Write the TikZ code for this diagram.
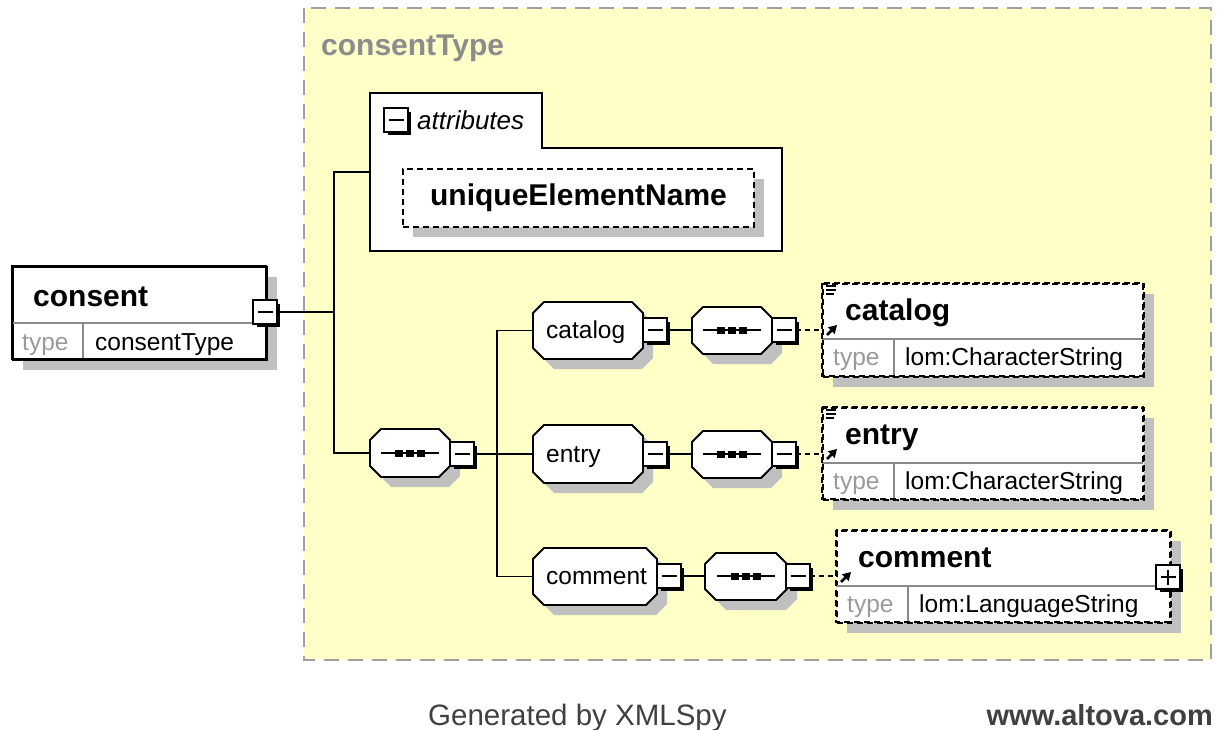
\documentclass[tikz,border=0pt]{standalone}
\usepackage{fontspec}
\setmainfont{Liberation Sans}
\usetikzlibrary{arrows.meta,shadows}

\definecolor{bgyellow}{HTML}{FFFFC8}
\definecolor{shadowgray}{HTML}{C0C0C0}
\definecolor{framegray}{HTML}{A0A0A0}
\definecolor{titlegray}{HTML}{8C8C8C}
\definecolor{typegray}{HTML}{9A9A9A}
\definecolor{rulegray}{HTML}{8A8A8A}
\definecolor{footgray}{HTML}{404040}

\newcommand\fReg{\fontsize{24.5}{28}\selectfont}
\newcommand\fBold{\fontsize{30}{34}\selectfont\bfseries}
\newcommand\fItal{\fontsize{26}{30}\selectfont\itshape}

% chamfered outline with its grey drop shadow (left, top, right, bottom)
\newcommand\octagon[4]{%
  \fill[shadowgray, xshift=10pt, yshift=-10pt]
    (#1+11,#2) -- (#3-11,#2) -- (#3,#2+11) -- (#3,#4-11) -- (#3-11,#4) -- (#1+11,#4) -- (#1,#4-11) -- (#1,#2+11) -- cycle;
  \filldraw[fill=white, line width=1.8pt]
    (#1+11,#2) -- (#3-11,#2) -- (#3,#2+11) -- (#3,#4-11) -- (#3-11,#4) -- (#1+11,#4) -- (#1,#4-11) -- (#1,#2+11) -- cycle;
}
% sequence compositor glyph (centre x, centre y, half length)
\newcommand\seqmark[3]{%
  \draw[line width=1.6pt] (#1-#3,#2) -- (#1+#3,#2);
  \fill (#1-15,#2-3.5) rectangle (#1-7,#2+3.5);
  \fill (#1-4,#2-3.5) rectangle (#1+4,#2+3.5);
  \fill (#1+7,#2-3.5) rectangle (#1+15,#2+3.5);
}
% reference arrow and facet icon of a global element box
\newcommand\refarrow[2]{%
  \draw[line width=2.6pt, -{Triangle[length=8pt,width=9pt]}] (#1,#2) -- (#1+10,#2-10);
}
\newcommand\facets[2]{%
  \draw[line width=1.5pt] (#1,#2) -- (#1+10,#2) (#1,#2+4) -- (#1+10,#2+4) (#1,#2+8) -- (#1+8,#2+8);
}

\tikzset{
  conn/.style={line width=1.5pt},
  dashconn/.style={line width=1.5pt, dash pattern=on 5pt off 4pt},
  solidbox/.style={draw, line width=1.8pt, fill=white},
  dashbox/.style={draw, line width=1.8pt, dash pattern=on 6pt off 4pt, fill=white},
  gshadow/.style={drop shadow={shadow xshift=10pt, shadow yshift=-10pt, fill=shadowgray, opacity=1}},
  area/.style={inner sep=0pt, outer sep=0pt, draw=none},
  txt/.style={inner sep=0pt, anchor=base west},
  reg/.style={txt, font=\fReg},
  bold/.style={txt, font=\fBold},
  typelabel/.style={txt, font=\fReg, text=typegray},
  divider/.style={draw=rulegray, line width=1.3pt},
  ctrl/.style={draw, line width=1.6pt, fill=white, minimum size=23.5pt, inner sep=0pt, outer sep=0pt,
    drop shadow={shadow xshift=3.5pt, shadow yshift=-3.5pt, fill=black, opacity=1}},
  minusbox/.style={ctrl, path picture={
    \draw[line width=1.5pt] ([xshift=-7.5pt]path picture bounding box.center) -- ([xshift=7.5pt]path picture bounding box.center);}},
  plusbox/.style={ctrl, path picture={
    \draw[line width=1.5pt] ([xshift=-7.5pt]path picture bounding box.center) -- ([xshift=7.5pt]path picture bounding box.center)
      ([yshift=-7.5pt]path picture bounding box.center) -- ([yshift=7.5pt]path picture bounding box.center);}},
}

\begin{document}
\begin{tikzpicture}[x=1pt, y=-1pt]
\useasboundingbox (0,0) rectangle (1219,730);

% complex type frame
\filldraw[fill=bgyellow, draw=framegray, line width=2pt, dash pattern=on 15pt off 9pt] (304,8) rectangle (1211,660);
\node[bold, text=titlegray] (typeTitle) at (321,56) {consentType};

% ---- connectors ----
\coordinate (fork1) at (334,312);
\coordinate (fork2) at (497,454);
\node[area, minimum width=412pt, minimum height=158pt, anchor=north west] (attrs) at (370,93) {};
\node[area, minimum width=80pt, minimum height=48pt, anchor=north west] (mainSeq) at (370,429) {};
\node[area, minimum width=110pt, minimum height=57pt, anchor=north west] (catOct) at (533,302) {};
\node[area, minimum width=110pt, minimum height=58pt, anchor=north west] (entOct) at (533,425) {};
\node[area, minimum width=124pt, minimum height=57pt, anchor=north west] (comOct) at (533,548) {};
\node[area, minimum width=80pt, minimum height=47pt, anchor=north west] (catSeq) at (692,307) {};
\node[area, minimum width=80pt, minimum height=47pt, anchor=north west] (entSeq) at (692,431) {};
\node[area, minimum width=82pt, minimum height=47pt, anchor=north west] (comSeq) at (705,553) {};

\node[minusbox] (consentMinus) at (265,312) {};
\node[minusbox] (mainMinus) at (462,454) {};
\node[minusbox] (catMinus) at (655,330) {};
\node[minusbox] (entMinus) at (655,454) {};
\node[minusbox] (comMinus) at (669,576) {};
\node[minusbox] (catSeqMinus) at (784,330) {};
\node[minusbox] (entSeqMinus) at (784,454) {};
\node[minusbox] (comSeqMinus) at (798,576) {};

\draw[conn] (consentMinus.east) -- (fork1);
\draw[conn] (attrs.west) -| (fork1) |- (mainSeq.west);
\draw[conn] (mainMinus.east) -- (entOct.west);
\draw[conn] (catOct.west) -| (fork2) |- (comOct.west);
\draw[conn] (catMinus.east) -- (catMinus.east -| catSeq.west);
\draw[conn] (entMinus.east) -- (entMinus.east -| entSeq.west);
\draw[conn] (comMinus.east) -- (comMinus.east -| comSeq.west);

% ---- consent element ----
\node[solidbox, gshadow, minimum width=254pt, minimum height=93pt, anchor=north west] (consentEl) at (12,266) {};
\draw[divider] (12,323) -- (266,323) (83,323) -- (83,359);
\draw[line width=1.8pt] (12,266) rectangle (266,359);
\node[bold] (consentName) at (33,306) {consent};
\node[typelabel] (consentTypeLbl) at (22,350) {type};
\node[reg] (consentTypeVal) at (95,350) {consentType};
\node[minusbox] at (consentMinus) {};

% ---- attributes group ----
\filldraw[fill=white, line width=1.8pt] (370,93) -- (542,93) -- (542,148) -- (782,148) -- (782,251) -- (370,251) -- cycle;
\node[minusbox] (attrMinus) at (396,120) {};
\node[txt, font=\fItal] (attrLabel) at (417,130) {attributes};
\node[dashbox, gshadow, minimum width=351pt, minimum height=58pt, font=\fBold, inner sep=0pt] (uniqueEl) at (578.5,198) {uniqueElementName};

% ---- sequences and local elements ----
\octagon{370}{429}{450}{477}
\seqmark{410}{453}{29}
\node[minusbox] at (mainMinus) {};

\octagon{533}{302}{643}{359}
\node[reg] (catText) at (546,338) {catalog};
\node[minusbox] at (catMinus) {};
\octagon{692}{307}{772}{354}
\seqmark{732}{330}{29}
\node[minusbox] at (catSeqMinus) {};

\octagon{533}{425}{643}{483}
\node[reg] (entText) at (546,462) {entry};
\node[minusbox] at (entMinus) {};
\octagon{692}{431}{772}{478}
\seqmark{732}{454}{29}
\node[minusbox] at (entSeqMinus) {};

\octagon{533}{548}{657}{605}
\node[reg] (comText) at (546,584) {comment};
\node[minusbox] at (comMinus) {};
\octagon{705}{553}{787}{600}
\seqmark{746}{576}{29}
\node[minusbox] at (comSeqMinus) {};

% ---- referenced global elements ----
\node[dashbox, gshadow, minimum width=321pt, minimum height=93pt, anchor=north west] (catEl) at (822,283) {};
\draw[divider] (822,339) -- (1143,339) (894,339) -- (894,376);
\draw[line width=1.8pt, dash pattern=on 6pt off 4pt] (822,283) rectangle (1143,376);
\node[bold] (catName) at (845,320) {catalog};
\node[typelabel] (catTypeLbl) at (833,365) {type};
\node[reg] (catTypeVal) at (905,365) {lom:CharacterString};
\facets{826}{286}
\refarrow{827}{335}

\node[dashbox, gshadow, minimum width=321pt, minimum height=92pt, anchor=north west] (entEl) at (822,407) {};
\draw[divider] (822,463) -- (1143,463) (894,463) -- (894,499);
\draw[line width=1.8pt, dash pattern=on 6pt off 4pt] (822,407) rectangle (1143,499);
\node[bold] (entName) at (845,444) {entry};
\node[typelabel] (entTypeLbl) at (833,489) {type};
\node[reg] (entTypeVal) at (905,489) {lom:CharacterString};
\facets{826}{410}
\refarrow{827}{459}

\node[dashbox, gshadow, minimum width=334pt, minimum height=92pt, anchor=north west] (comEl) at (836,530) {};
\draw[divider] (836,586) -- (1170,586) (908,586) -- (908,622);
\draw[line width=1.8pt, dash pattern=on 6pt off 4pt] (836,530) rectangle (1170,622);
\node[bold] (comName) at (858,567) {comment};
\node[typelabel] (comTypeLbl) at (847,612) {type};
\node[reg] (comTypeVal) at (919,612) {lom:LanguageString};
\refarrow{841}{582}
\node[plusbox] (comPlus) at (1168,577) {};

\draw[dashconn] (catSeqMinus.east) -- (catSeqMinus.east -| catEl.west);
\draw[dashconn] (entSeqMinus.east) -- (entSeqMinus.east -| entEl.west);
\draw[dashconn] (comSeqMinus.east) -- (comSeqMinus.east -| comEl.west);

% ---- footer ----
\node[txt, font=\fontsize{29.5}{33}\selectfont, text=footgray] (generated) at (428,725) {Generated by XMLSpy};
\node[inner sep=0pt, anchor=base east, font=\fontsize{29}{33}\selectfont\bfseries, text=footgray] (site) at (1213,725) {www.altova.com};
\end{tikzpicture}
\end{document}
